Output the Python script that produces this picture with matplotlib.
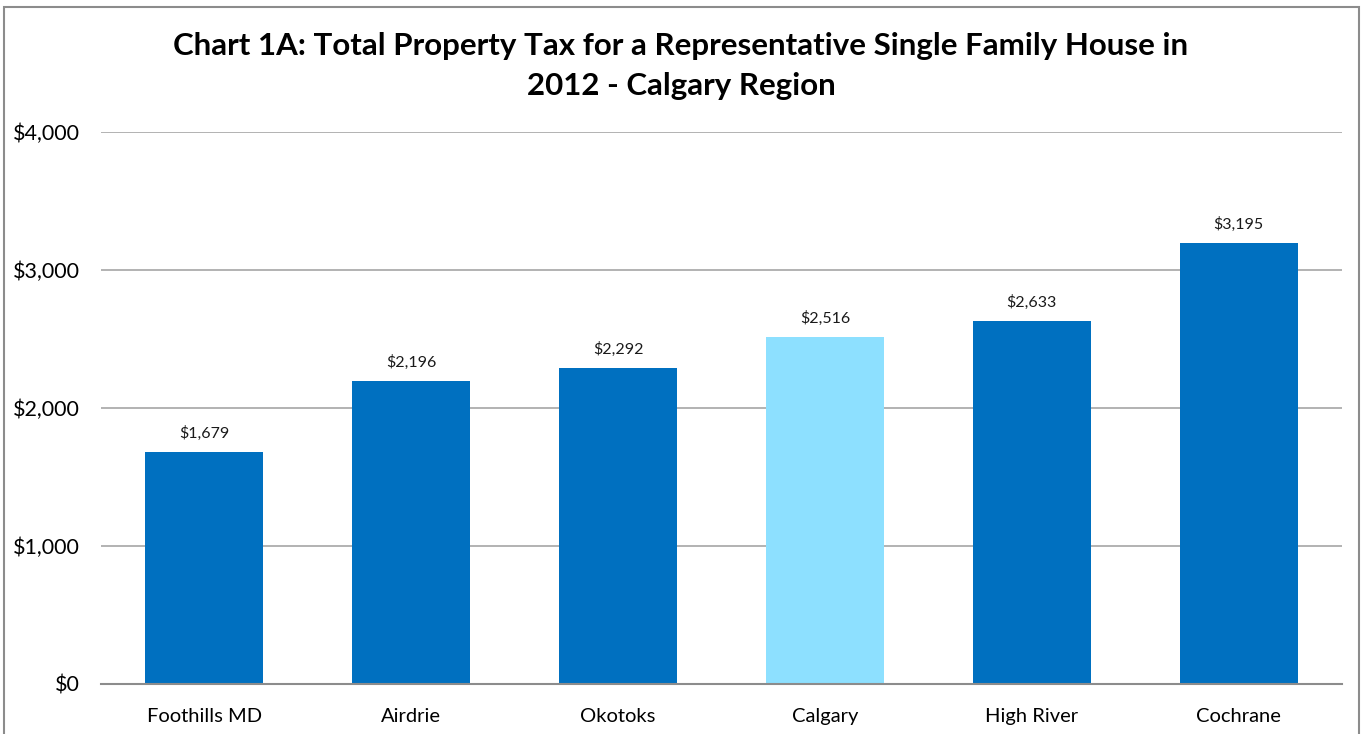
#!/usr/bin/env python3
import matplotlib
matplotlib.use('Agg')
import matplotlib.pyplot as plt
import matplotlib.patches as mpatches
from matplotlib.ticker import FuncFormatter

plt.rcParams['font.family'] = ['Lato', 'DejaVu Sans']

CATEGORIES = ["Foothills MD", "Airdrie", "Okotoks", "Calgary", "High River", "Cochrane"]
TAX_2012   = [1679, 2196, 2292, 2516, 2633, 3195]
HIGHLIGHT  = "Calgary"

C_DARK  = "#0070C0"
C_LIGHT = "#8DE0FF"

W, H = 1362, 734
fig = plt.figure(figsize=(W / 100, H / 100), dpi=100)

# chart border
fig.patches.append(mpatches.Rectangle((4 / W, -0.01), (1359 - 4) / W, 1 - 7 / H + 0.01,
                                      transform=fig.transFigure, fill=False,
                                      edgecolor="#8C8C8C", linewidth=1.5))

ax = fig.add_axes([101 / W, 1 - 684 / H, (1342 - 101) / W, (684 - 132) / H])

colors = [C_LIGHT if c == HIGHLIGHT else C_DARK for c in CATEGORIES]
bars = ax.bar(CATEGORIES, TAX_2012, width=0.57, color=colors, zorder=3)

for bar, v in zip(bars, TAX_2012):
    ax.annotate(f"${v:,}", (bar.get_x() + bar.get_width() / 2, v),
                xytext=(0, 8), textcoords="offset points",
                ha="center", va="bottom", fontsize=11.5, color="#1a1a1a")

ax.set_xlim(-0.5, len(CATEGORIES) - 0.5)
ax.set_ylim(0, 4000)
ax.set_yticks([0, 1000, 2000, 3000, 4000])
ax.yaxis.set_major_formatter(FuncFormatter(lambda v, p: f"${v:,.0f}"))
ax.grid(True, axis="y", color="#A6A6A6", linewidth=1.2, zorder=0)

for s in ["top", "right", "left"]:
    ax.spines[s].set_visible(False)
ax.spines["bottom"].set_color("#8C8C8C")
ax.spines["bottom"].set_linewidth(1.5)
ax.spines["bottom"].set_zorder(4)

ax.tick_params(axis="y", length=0, pad=15, labelsize=15.5)
ax.tick_params(axis="x", length=0, pad=17, labelsize=14.5)

fig.text(0.5, 1 - 66 / H,
         "Chart 1A: Total Property Tax for a Representative Single Family House in\n2012 - Calgary Region",
         ha="center", va="center", fontsize=22.5, fontweight="bold", linespacing=1.55)

fig.savefig("out.png", dpi=100)
